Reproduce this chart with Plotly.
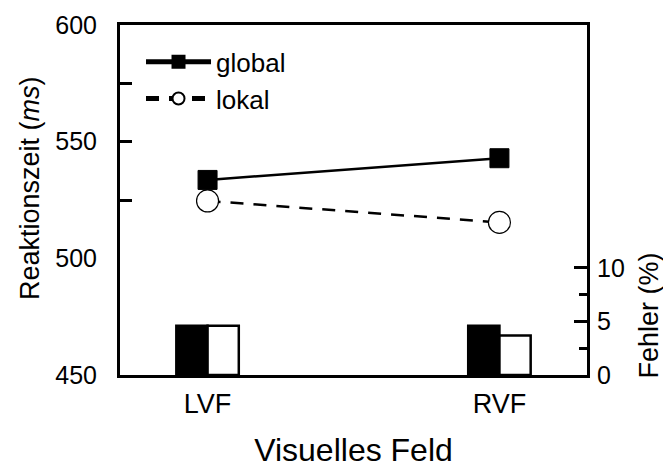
import plotly.graph_objects as go

categories = ["LVF", "RVF"]
rt_global = [533.6, 542.9]
rt_lokal = [524.6, 515.4]
err_global = [4.6, 4.6]
err_lokal = [4.6, 3.7]

FONT = "Liberation Sans, Arial, sans-serif"

fig = go.Figure()

fig.add_trace(go.Scatter(
    x=categories, y=rt_global, name="global", mode="lines+markers",
    line=dict(color="black", width=2.5),
    marker=dict(symbol="square", size=19, color="black", line=dict(color="black", width=1))))
fig.add_trace(go.Scatter(
    x=categories, y=rt_lokal, name="lokal", mode="lines+markers",
    line=dict(color="black", width=2.5, dash="13px,10px"),
    marker=dict(symbol="circle", size=22, color="white", line=dict(color="black", width=1.2))))

fig.add_trace(go.Bar(
    x=categories, y=err_global, yaxis="y2", width=0.107, offset=-0.107,
    marker=dict(color="black", line=dict(color="black", width=2.5)),
    showlegend=False, hoverinfo="skip"))
fig.add_trace(go.Bar(
    x=categories, y=err_lokal, yaxis="y2", width=0.107, offset=0,
    marker=dict(color="white", line=dict(color="black", width=2.5)),
    showlegend=False, hoverinfo="skip"))

fig.update_layout(
    width=663, height=469,
    margin=dict(l=120, r=76, t=25, b=94),
    paper_bgcolor="white", plot_bgcolor="white",
    font=dict(family=FONT, size=25, color="black"),
    barmode="overlay",
    showlegend=True,
    legend=dict(x=0.045, y=0.962, xanchor="left", yanchor="top",
                bgcolor="rgba(0,0,0,0)", font=dict(size=26),
                tracegroupgap=0, itemwidth=65, itemsizing="constant"),
    xaxis=dict(
        type="category", range=[-0.3, 1.3], automargin=False,
        showline=True, linecolor="black", linewidth=3, mirror=True,
        ticks="", showgrid=False, zeroline=False, ticklabelstandoff=3,
        tickfont=dict(size=27),
        title=dict(text="Visuelles Feld", font=dict(size=32), standoff=21),
    ),
    yaxis=dict(
        range=[450, 600], tickvals=[450, 500, 550, 600], automargin=False,
        showline=True, linecolor="black", linewidth=3, mirror=True,
        ticks="inside", ticklen=12, tickwidth=3, tickcolor="black",
        minor=dict(tickvals=[475, 525, 575], ticks="inside", ticklen=12, tickwidth=3, tickcolor="black"),
        showgrid=False, zeroline=False, ticklabelstandoff=15,
        tickfont=dict(size=25),
    ),
    yaxis2=dict(
        domain=[0, 0.34], anchor="x", side="right", range=[0, 11.12], tickvals=[0, 5, 10],
        automargin=False,
        showline=True, linecolor="black", linewidth=3,
        ticks="inside", ticklen=13, tickwidth=3, tickcolor="black",
        minor=dict(tickvals=[2.5, 7.5], ticks="inside", ticklen=8, tickwidth=3, tickcolor="black"),
        showgrid=False, zeroline=False, ticklabelstandoff=2,
        tickfont=dict(size=25),
    ),
    annotations=[
        dict(text="Reaktionszeit (<i>ms</i>)", xref="paper", yref="paper", x=0, y=0.5,
             xanchor="center", yanchor="middle", xshift=-90, yshift=12, textangle=-90,
             showarrow=False, font=dict(size=27, family=FONT, color="black")),
        dict(text="Fehler (%)", xref="paper", yref="y2 domain", x=1, y=0.5,
             xanchor="center", yanchor="middle", xshift=61, textangle=-90,
             showarrow=False, font=dict(size=27, family=FONT, color="black")),
    ],
)

fig.write_html("out.html", config={"displayModeBar": False},
               post_script="document.body.style.margin='0';document.body.style.overflow='hidden';")
